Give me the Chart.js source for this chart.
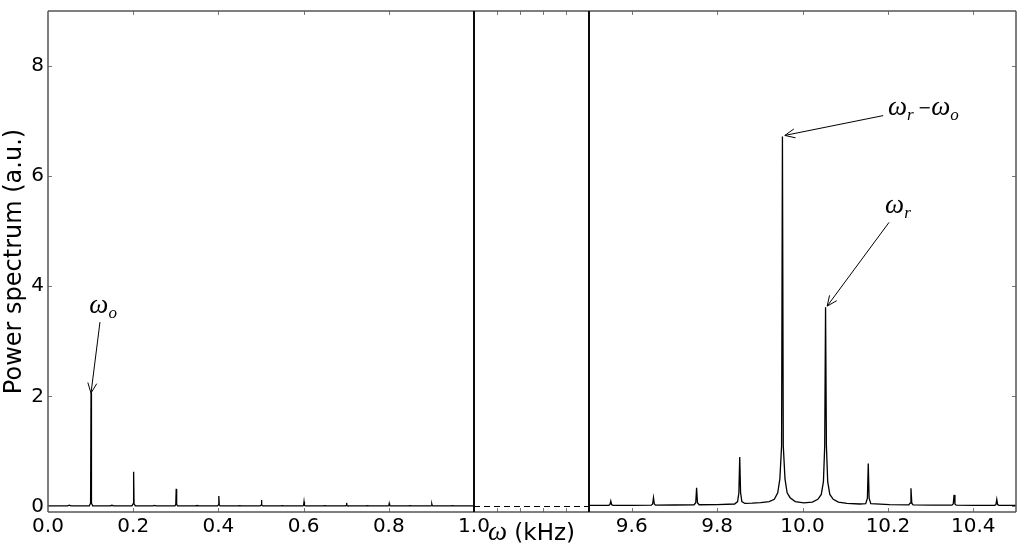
<!DOCTYPE html>
<html>
<head>
<meta charset="utf-8">
<script src="https://cdn.jsdelivr.net/npm/chart.js@4/dist/chart.umd.min.js"></script>
<style>
html, body { margin: 0; padding: 0; background: #fff; }
#wrap { position: relative; width: 1024px; height: 551px; }
.layer { position: absolute; left: 0; top: 0; width: 1024px; height: 551px; }
</style>
</head>
<body>
<div id="wrap">
  <div class="layer"><canvas id="chart-left"></canvas></div>
  <div class="layer"><canvas id="chart-gap"></canvas></div>
  <div class="layer"><canvas id="chart-right"></canvas></div>
</div>
<script>
// low band, 0 - 1 kHz
const LEFT_X = [
  0.000, 0.046, 0.050, 0.054,
  0.097, 0.100, 0.101, 0.102, 0.105,
  0.146, 0.150, 0.154,
  0.197, 0.200, 0.201, 0.202, 0.205,
  0.246, 0.250, 0.254,
  0.298, 0.300, 0.301, 0.302, 0.304,
  0.346, 0.350, 0.354,
  0.398, 0.400, 0.401, 0.402, 0.404,
  0.446, 0.450, 0.454,
  0.498, 0.500, 0.501, 0.502, 0.504,
  0.546, 0.550, 0.554,
  0.598, 0.600, 0.601, 0.602, 0.604,
  0.646, 0.650, 0.654,
  0.698, 0.700, 0.701, 0.702, 0.704,
  0.746, 0.750, 0.754,
  0.798, 0.800, 0.801, 0.802, 0.804,
  0.846, 0.850, 0.854,
  0.898, 0.900, 0.901, 0.902, 0.904,
  0.946, 0.950, 0.954,
  1.000
];
const LEFT_Y = [
  0.010, 0.010, 0.025, 0.010,
  0.012, 0.060, 2.060, 0.060, 0.012,
  0.010, 0.022, 0.010,
  0.012, 0.050, 0.630, 0.050, 0.012,
  0.010, 0.020, 0.010,
  0.010, 0.040, 0.320, 0.040, 0.010,
  0.010, 0.018, 0.010,
  0.010, 0.030, 0.190, 0.030, 0.010,
  0.010, 0.017, 0.010,
  0.010, 0.025, 0.120, 0.025, 0.010,
  0.010, 0.016, 0.010,
  0.010, 0.020, 0.085, 0.020, 0.010,
  0.010, 0.015, 0.010,
  0.010, 0.018, 0.065, 0.018, 0.010,
  0.010, 0.015, 0.010,
  0.010, 0.016, 0.055, 0.016, 0.010,
  0.010, 0.014, 0.010,
  0.010, 0.015, 0.045, 0.015, 0.010,
  0.010, 0.014, 0.010,
  0.010
];

// high band, 9.5 - 10.5 kHz
const RIGHT_X = [
  9.500,
  9.546, 9.549, 9.551, 9.553, 9.556, 9.600,
  9.646, 9.649, 9.651, 9.653, 9.656, 9.700,
  9.746, 9.750, 9.752, 9.754, 9.758, 9.800,
  9.841, 9.848, 9.851, 9.853, 9.855, 9.858, 9.865, 9.882, 9.902, 9.922,
  9.934, 9.942, 9.947, 9.951, 9.953, 9.955, 9.959, 9.964, 9.971, 9.983,
  10.003,
  10.023, 10.036, 10.044, 10.049, 10.052, 10.054, 10.056, 10.059, 10.064, 10.072, 10.084, 10.104,
  10.134, 10.148, 10.152, 10.154, 10.156, 10.160, 10.204,
  10.249, 10.252, 10.254, 10.256, 10.259, 10.304,
  10.350, 10.353, 10.355, 10.357, 10.360, 10.404,
  10.450, 10.453, 10.455, 10.457, 10.460, 10.500
];
const RIGHT_Y = [
  0.020,
  0.022, 0.035, 0.100, 0.035, 0.022, 0.022,
  0.025, 0.045, 0.160, 0.045, 0.025, 0.027,
  0.032, 0.070, 0.340, 0.070, 0.032, 0.035,
  0.045, 0.090, 0.250, 0.900, 0.250, 0.090, 0.055, 0.060, 0.070, 0.090,
  0.130, 0.250, 0.500, 1.100, 6.720, 1.100, 0.500, 0.250, 0.160, 0.090,
  0.065,
  0.080, 0.130, 0.220, 0.450, 1.100, 3.620, 1.100, 0.450, 0.220, 0.130, 0.080, 0.055,
  0.045, 0.050, 0.150, 0.780, 0.150, 0.050, 0.035,
  0.030, 0.060, 0.330, 0.060, 0.030, 0.025,
  0.025, 0.045, 0.210, 0.045, 0.025, 0.020,
  0.020, 0.035, 0.130, 0.035, 0.020, 0.020
];

// the broken-axis gap: dashed zero line
const GAP_X = [0, 5];
const GAP_Y = [0, 0];

const LEFT_TICKS = [0, 0.2, 0.4, 0.6, 0.8, 1.0];
const RIGHT_TICKS = [9.6, 9.8, 10.0, 10.2, 10.4];
const GAP_TICKS = [1, 2, 3, 4];
const Y_TICKS = [0, 2, 4, 6, 8];

const Y_LABEL = 'Power spectrum (a.u.)';
const X_LABEL = [['ω', 'm'], [' (kHz)', 'a']];

// annotations: text anchor, arrow tail and arrow head in data units
const LEFT_NOTES = [
  { parts: [['ω', 'm'], ['o', 's']], at: [0.097, 3.52], tail: [0.122, 3.35], head: [0.101, 2.06] }
];
const RIGHT_NOTES = [
  { parts: [['ω', 'm'], ['r', 's'], [' ', 's'], ['−', 'u'], ['ω', 'm'], ['o', 's']], at: [10.200, 7.12], tail: [10.189, 7.10], head: [9.9586, 6.74] },
  { parts: [['ω', 'm'], ['r', 's']], at: [10.1935, 5.34], tail: [10.2026, 5.16], head: [10.0578, 3.64] }
];

Chart.defaults.font.family = '"DejaVu Sans", sans-serif';
Chart.defaults.color = '#000';

const FONTS = {
  m: { font: 'italic 27px "Liberation Serif", serif', dy: 0 },
  s: { font: 'italic 17px "Liberation Serif", serif', dy: 5 },
  u: { font: '16px "DejaVu Sans", sans-serif', dy: -2 },
  a: { font: '23px "DejaVu Sans", sans-serif', dy: 0 }
};

function drawParts(ctx, parts, x, y, align) {
  let total = 0;
  parts.forEach(([t, k]) => { ctx.font = FONTS[k].font; total += ctx.measureText(t).width; });
  let cx = align === 'center' ? x - total / 2 : x;
  ctx.textBaseline = 'alphabetic';
  ctx.textAlign = 'left';
  parts.forEach(([t, k]) => {
    ctx.font = FONTS[k].font;
    ctx.fillText(t, cx, y + FONTS[k].dy);
    cx += ctx.measureText(t).width;
  });
}

const framePlugin = {
  id: 'frame',
  afterDraw(chart, args, opts) {
    const { ctx, chartArea: a, scales } = chart;
    const len = 4;
    ctx.save();
    ctx.strokeStyle = '#777';
    ctx.lineWidth = 1;
    ctx.beginPath();
    scales.x.ticks.forEach(t => {
      const px = Math.round(scales.x.getPixelForValue(t.value)) + 0.5;
      if (px <= a.left + 1 || px >= a.right - 1) return;
      ctx.moveTo(px, a.bottom); ctx.lineTo(px, a.bottom - len);
      ctx.moveTo(px, a.top); ctx.lineTo(px, a.top + len);
    });
    (opts.ySides || []).forEach(side => {
      scales.y.ticks.forEach(t => {
        const py = Math.round(scales.y.getPixelForValue(t.value)) + 0.5;
        if (side === 'left') { ctx.moveTo(a.left, py); ctx.lineTo(a.left + len, py); }
        else { ctx.moveTo(a.right, py); ctx.lineTo(a.right - len, py); }
      });
    });
    ctx.stroke();

    const s = opts.sides || {};
    const edge = (color, w, x1, y1, x2, y2) => {
      if (!color) return;
      ctx.strokeStyle = color; ctx.lineWidth = w;
      ctx.beginPath(); ctx.moveTo(x1, y1); ctx.lineTo(x2, y2); ctx.stroke();
    };
    edge(s.top, 1.5, a.left, a.top, a.right, a.top);
    edge(s.bottom, 1.5, a.left, a.bottom, a.right, a.bottom);
    edge(s.left, s.left === '#000' ? 1.6 : 1.5, a.left, a.top, a.left, a.bottom);
    edge(s.right, s.right === '#000' ? 1.6 : 1.5, a.right, a.top, a.right, a.bottom);
    ctx.restore();
  }
};

const notesPlugin = {
  id: 'notes',
  afterDraw(chart, args, opts) {
    const { ctx, scales } = chart;
    const X = v => scales.x.getPixelForValue(v);
    const Y = v => scales.y.getPixelForValue(v);
    ctx.save();
    ctx.fillStyle = '#000';
    ctx.strokeStyle = '#000';
    ctx.lineWidth = 1;
    (opts.items || []).forEach(n => {
      const tx = X(n.tail[0]), ty = Y(n.tail[1]);
      const hx = X(n.head[0]), hy = Y(n.head[1]);
      const ang = Math.atan2(hy - ty, hx - tx);
      ctx.beginPath();
      ctx.moveTo(tx, ty); ctx.lineTo(hx, hy);
      [0.42, -0.42].forEach(d => {
        ctx.moveTo(hx, hy);
        ctx.lineTo(hx - 11 * Math.cos(ang + d), hy - 11 * Math.sin(ang + d));
      });
      ctx.stroke();
      drawParts(ctx, n.parts, X(n.at[0]), Y(n.at[1]), 'left');
    });
    if (opts.xLabel) {
      const a = chart.chartArea;
      drawParts(ctx, opts.xLabel, (a.left + a.right) / 2, 540, 'center');
    }
    ctx.restore();
  }
};

function points(xs, ys) {
  return xs.map((x, i) => ({ x, y: ys[i] }));
}

function noPad(s) {
  s.paddingTop = 0; s.paddingBottom = 0; s.paddingLeft = 0; s.paddingRight = 0;
}

function makeChart(id, cfg) {
  const yAxis = {
    type: 'linear',
    min: -0.1,
    max: 9,
    display: cfg.showY,
    afterBuildTicks: s => { s.ticks = Y_TICKS.map(v => ({ value: v })); },
    afterFit: s => { s.width = cfg.showY ? 48 : 0; noPad(s); },
    grid: { display: false, drawTicks: false },
    border: { display: false },
    ticks: { padding: 4, font: { size: 20 }, callback: v => String(v) },
    title: { display: cfg.showY, text: Y_LABEL, font: { size: 24 }, padding: { top: 0, bottom: 0 } }
  };
  const xAxis = {
    type: 'linear',
    min: cfg.xMin,
    max: cfg.xMax,
    afterBuildTicks: s => { s.ticks = cfg.ticks.map(v => ({ value: v })); },
    afterFit: s => { s.height = 39; noPad(s); },
    grid: { display: false, drawTicks: false },
    border: { display: false },
    ticks: {
      display: cfg.showXLabels,
      autoSkip: false,
      maxRotation: 0,
      padding: 3,
      font: { size: 20 },
      callback: v => Number(v).toFixed(1)
    }
  };
  return new Chart(document.getElementById(id), {
    type: 'line',
    data: {
      datasets: [{
        data: points(cfg.xs, cfg.ys),
        borderColor: '#000',
        borderWidth: cfg.lineWidth,
        borderDash: cfg.dash || [],
        pointRadius: 0,
        tension: 0,
        fill: false
      }]
    },
    options: {
      responsive: true,
      maintainAspectRatio: false,
      animation: false,
      devicePixelRatio: 1,
      layout: { padding: cfg.padding },
      plugins: {
        legend: { display: false },
        tooltip: { enabled: false },
        frame: { sides: cfg.sides, ySides: cfg.ySides },
        notes: { items: cfg.notes || [], xLabel: cfg.xLabel }
      },
      scales: { x: xAxis, y: yAxis }
    },
    plugins: [framePlugin, notesPlugin]
  });
}

makeChart('chart-left', {
  xs: LEFT_X, ys: LEFT_Y, xMin: 0, xMax: 1, ticks: LEFT_TICKS,
  showY: true, showXLabels: true, lineWidth: 1.3,
  padding: { left: 0, right: 550, top: 11, bottom: 0 },
  sides: { top: '#555', bottom: '#555', left: '#555', right: '#000' },
  ySides: ['left'],
  notes: LEFT_NOTES
});

makeChart('chart-gap', {
  xs: GAP_X, ys: GAP_Y, xMin: 0, xMax: 5, ticks: GAP_TICKS,
  showY: false, showXLabels: false, lineWidth: 1.1, dash: [6, 4],
  padding: { left: 474, right: 435, top: 11, bottom: 0 },
  sides: { top: '#555', bottom: '#555', left: '#000', right: '#000' },
  ySides: [],
  xLabel: X_LABEL
});

makeChart('chart-right', {
  xs: RIGHT_X, ys: RIGHT_Y, xMin: 9.5, xMax: 10.5, ticks: RIGHT_TICKS,
  showY: false, showXLabels: true, lineWidth: 1.3,
  padding: { left: 589, right: 8, top: 11, bottom: 0 },
  sides: { top: '#555', bottom: '#555', left: '#000', right: '#555' },
  ySides: ['right'],
  notes: RIGHT_NOTES
});
</script>
</body>
</html>
